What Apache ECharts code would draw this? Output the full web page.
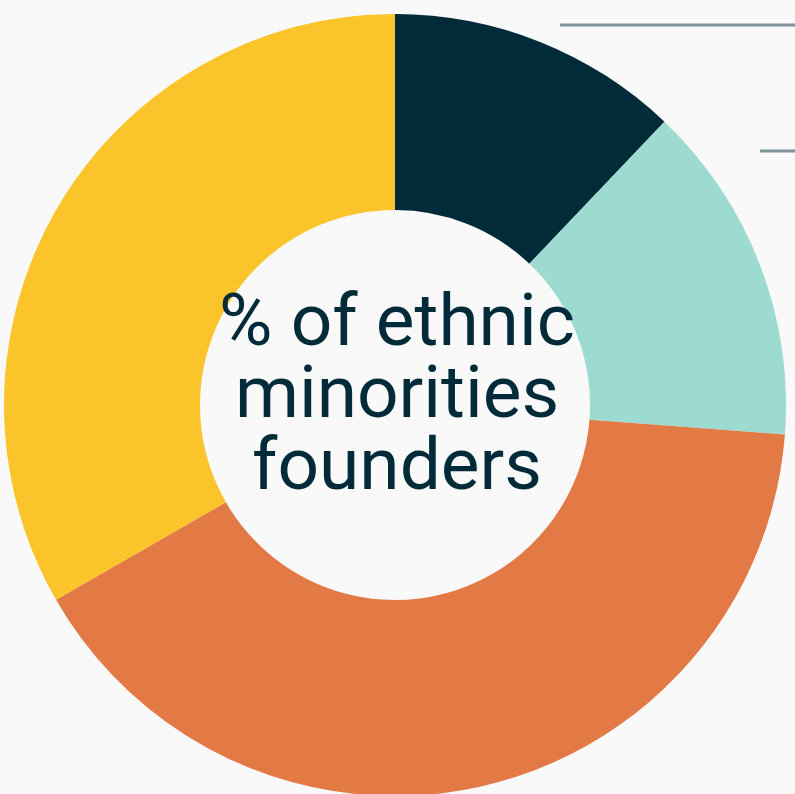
<!DOCTYPE html>
<html>
<head>
<meta charset="utf-8">
<script src="https://cdn.jsdelivr.net/npm/echarts@6/dist/echarts.min.js"></script>
<style>
  html, body { margin: 0; padding: 0; background: #f9f9f9; }
  #chart { width: 795px; height: 794px; }
</style>
</head>
<body>
<div id="chart"></div>
<script>
// Share of founders by group (percent), clockwise from 12 o'clock
const categories = ['Group A', 'Group B', 'Group C', 'Group D'];
const shares = [12.1, 14.1, 40.5, 33.3];
const sliceColors = ['#022b3a', '#9ddbd0', '#e37945', '#fbc42b'];
const centreTitle = '% of ethnic\nminorities\nfounders';

const chart = echarts.init(document.getElementById('chart'), null, { renderer: 'canvas' });

chart.setOption({
  backgroundColor: '#f9f9f9',
  animation: false,
  series: [{
    type: 'pie',
    z: 1,
    center: [395, 405],
    radius: [195, 391],
    startAngle: 90,
    clockwise: true,
    avoidLabelOverlap: false,
    label: { show: false },
    labelLine: { show: false },
    emphasis: { disabled: true },
    data: categories.map((name, i) => ({
      name,
      value: shares[i],
      itemStyle: { color: sliceColors[i] }
    }))
  }],
  graphic: {
    elements: [
      {
        type: 'text',
        z: 100,
        x: 397,
        y: 399,
        style: {
          text: centreTitle,
          fontFamily: 'Roboto',
          fontSize: 73,
          lineHeight: 72,
          fill: '#022b3a',
          align: 'center',
          verticalAlign: 'middle'
        }
      },
      {
        type: 'line',
        z: 100,
        shape: { x1: 560, y1: 25, x2: 795, y2: 25 },
        style: { stroke: '#7f9499', lineWidth: 3 }
      },
      {
        type: 'line',
        z: 100,
        shape: { x1: 760, y1: 151, x2: 795, y2: 151 },
        style: { stroke: '#7f9499', lineWidth: 3 }
      }
    ]
  }
});
</script>
</body>
</html>
